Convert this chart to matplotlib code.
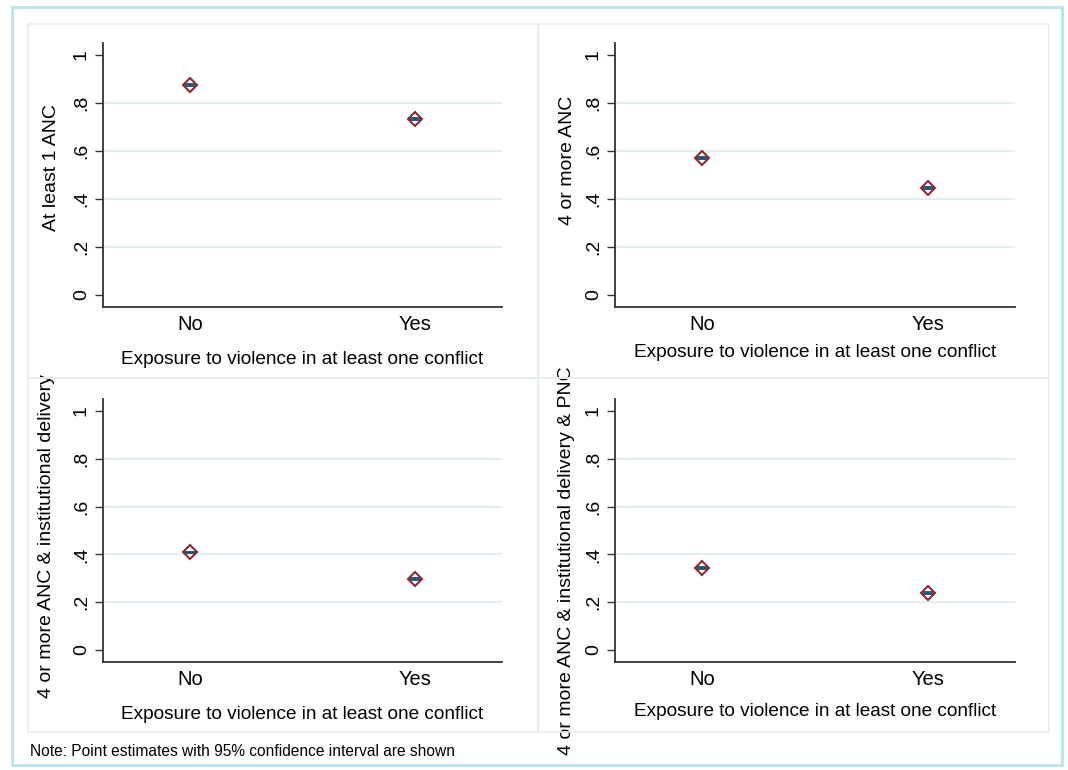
import matplotlib
matplotlib.use("Agg")
import matplotlib.pyplot as plt
from matplotlib.patches import Rectangle

plt.rcParams['font.family'] = ['Liberation Sans', 'DejaVu Sans']

# data
groups = ["No", "Yes"]
xlab = "Exposure to violence in at least one conflict"
outcomes = ["At least 1 ANC",
            "4 or more ANC",
            "4 or more ANC & institutional delivery",
            "4 or more ANC & institutional delivery & PNC"]
at_least_1_anc = [0.874, 0.732]
four_anc = [0.569, 0.444]
four_anc_inst = [0.408, 0.298]
four_anc_inst_pnc = [0.345, 0.239]
ci_half = [0.004, 0.004]
yticks = [0, 0.2, 0.4, 0.6, 0.8, 1.0]
ytick_labels = ["0", ".2", ".4", ".6", ".8", "1"]
note = "Note: Point estimates with 95% confidence interval are shown"

W, H = 1068, 770
fig = plt.figure(figsize=(W / 100, H / 100), dpi=100)
fig.patch.set_facecolor("white")


def px_rect(x0, y0, x1, y1):
    """pixel box (top-left origin) -> figure fraction [l, b, w, h]"""
    return [x0 / W, 1 - y1 / H, (x1 - x0) / W, (y1 - y0) / H]


# outer frame and the four panel frames
l, b, w, h = px_rect(12, 7, 1062, 765)
fig.add_artist(Rectangle((l, b), w, h, transform=fig.transFigure,
                         fill=False, edgecolor="#b9e2ec", lw=2))
for box in [(28, 24, 538, 378), (538, 24, 1049, 378),
            (28, 378, 538, 732), (538, 378, 1049, 732)]:
    l, b, w, h = px_rect(*box)
    fig.add_artist(Rectangle((l, b), w, h, transform=fig.transFigure,
                             fill=False, edgecolor="#e6edef", lw=1.2))

# axes boxes in pixels, y-label coords and x-label offsets
panels = [
    ((103, 43, 502, 307), at_least_1_anc, (-0.107, 0.53), 38),
    ((615, 43, 1015, 307), four_anc, (-0.098, 0.557), 33),
    ((103, 399, 502, 662), four_anc_inst, (-0.12, 0.479), 38),
    ((615, 399, 1015, 662), four_anc_inst_pnc, (-0.1, 0.384), 36),
]

for i, (box, vals, ylab_pos, xl_off) in enumerate(panels):
    ax = fig.add_axes(px_rect(*box))
    x = list(range(len(groups)))
    ax.errorbar(x, vals, yerr=ci_half, fmt="none", ecolor="#1a476f",
                capsize=4, elinewidth=1.2, capthick=1.3, zorder=3)
    ax.plot(x, vals, linestyle="none", marker="D", markersize=7.5,
            markerfacecolor="none", markeredgecolor="#8a2a35",
            markeredgewidth=1.5, zorder=4)

    ax.set_xlim(-0.386, 1.386)
    ax.set_ylim(-0.05, 1.05)
    ax.set_xticks(x)
    ax.set_xticklabels(groups, fontsize=14.5)
    ax.set_yticks(yticks)
    ax.set_yticklabels(ytick_labels, fontsize=14, rotation=90, va="center")
    for yv in yticks[1:-1]:
        ax.axhline(yv, color="#e2ecef", lw=1.3, zorder=1)

    ax.tick_params(axis="both", length=6, width=1, color="#333333")
    ax.tick_params(axis="x", length=0, pad=6)
    for side in ["top", "right"]:
        ax.spines[side].set_visible(False)
    for side in ["left", "bottom"]:
        ax.spines[side].set_color("#333333")
        ax.spines[side].set_linewidth(1.3)

    ax.set_ylabel(outcomes[i], fontsize=14)
    ax.yaxis.set_label_coords(*ylab_pos)
    ax.set_xlabel(xlab, fontsize=13.7, labelpad=xl_off - 26)

fig.text(30 / W, 1 - 752 / H, note, fontsize=11.2, va="center", ha="left")

fig.savefig("out.png", dpi=100)
